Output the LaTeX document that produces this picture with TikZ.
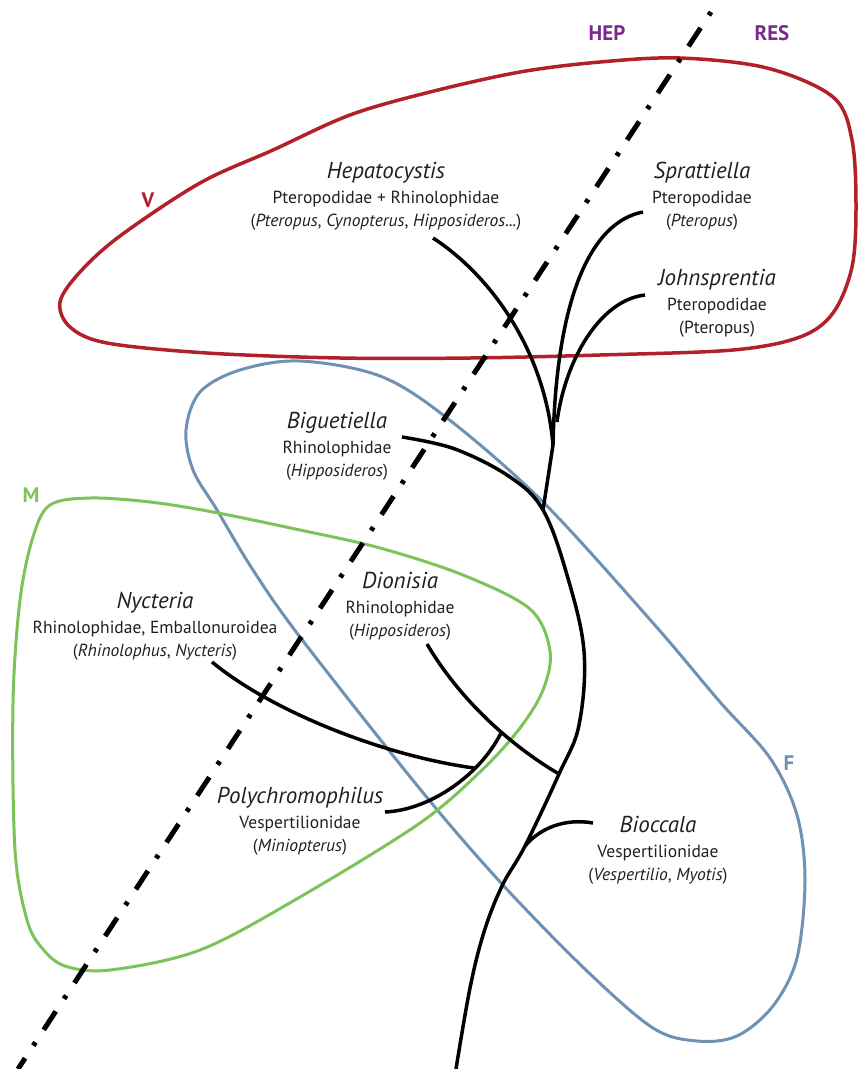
\documentclass[tikz,border=0pt]{standalone}
\usepackage{fontspec}
\setmainfont{PT Sans}
\definecolor{vred}{HTML}{B2202A}
\definecolor{fblue}{HTML}{6E91B4}
\definecolor{mgreen}{HTML}{7CC35A}
\definecolor{hpurple}{HTML}{7A2A8C}
\definecolor{ink}{HTML}{231F20}
\newcommand\taxon[6]{%
  \node[ttl] (#1) at (#2,#3) {#4};
  \node[bdy] (#1b) at (#2,#3+25) {#5};
  \node[bdy] (#1c) at (#2,#3+48) {#6};
}
\begin{document}
\begin{tikzpicture}[x=1pt,y=-1pt,
  grouploop/.style={line width=3pt, line join=round},
  branch/.style={line width=3.5pt, draw=black},
  ttl/.style={anchor=base, inner sep=0pt, text=ink, font=\fontsize{23}{26}\selectfont\itshape},
  bdy/.style={anchor=base, inner sep=0pt, text=ink, font=\fontsize{17.5}{20}\selectfont},
  grp/.style={anchor=base, inner sep=0pt, font=\fontsize{21}{24}\selectfont\bfseries}
]
\useasboundingbox (0,0) rectangle (858,1069);

% group loops
\draw[grouploop, vred, line width=3.5pt] plot[smooth cycle, tension=0.55] coordinates {
 (60,302) (80,272) (120,236) (200,183) (273,150) (350,115) (430,92) (520,72) (600,62)
 (680,58) (767,68) (833,97) (852,140) (856,207) (852,267) (833,313) (800,337) (733,350)
 (600,355) (470,358) (340,358) (207,353) (107,343) (70,327)};
\draw[grouploop, fblue] plot[smooth cycle, tension=0.55] coordinates {
 (186,430) (200,392) (240,370) (300,361) (380,376) (447,418) (543,502) (653,623)
 (720,702) (770,758) (797,815) (805,880) (797,958) (773,1006) (737,1036) (697,1041)
 (653,1028) (587,971) (502,884) (420,789) (300,637) (253,570) (217,510) (193,470)};
\draw[grouploop, mgreen] plot[smooth cycle, tension=0.55] coordinates {
 (33,537) (50,505) (90,498) (150,502) (213,512) (300,530) (380,548) (463,575) (530,609)
 (550,651) (543,690) (520,728) (482,770) (420,823) (300,897) (200,950) (110,970)
 (65,966) (42,948) (27,920) (15,850) (13,703) (20,600)};

% dash-dot divider
\coordinate (dtop) at (711,12);
\coordinate (dbot) at (18,1069);
\draw[line width=5pt, dash pattern=on 4pt off 15pt on 22pt off 15pt] (dtop) -- (dbot);

% tree coordinates
\coordinate (tH) at (433,238);
\coordinate (tS) at (643,212);
\coordinate (tJ) at (645,295);
\coordinate (jSJ) at (557,422);
\coordinate (jH) at (553,445);
\coordinate (jB) at (543,510);
\coordinate (tB) at (402,437);
\coordinate (tD) at (427,644);
\coordinate (jNP) at (501,733);
\coordinate (jN) at (474,768);
\coordinate (tN) at (212,662);
\coordinate (tP) at (385,812);
\coordinate (jD) at (559,774);
\coordinate (tBio) at (593,823);
\coordinate (jBio) at (525,846);
\coordinate (root) at (456,1069);

% tree
\draw[branch] plot[smooth, tension=0.6] coordinates {(tB) (455,449) (510,477) (jB) (567,575)
  (584,651) (579,725) (jD) (jBio) (502,886) (484,932) (470,988) (root)};
\draw[branch] (tH) .. controls (490,275) and (545,350) .. (jH);
\draw[branch] (tS) .. controls (590,222) and (556,300) .. (jH);
\draw[branch] (tJ) .. controls (600,300) and (565,360) .. (jSJ);
\draw[branch] (jH) -- (jB);
\draw[branch] (tD) .. controls (460,700) and (510,745) .. (jD);
\draw[branch] (tP) .. controls (430,810) and (480,775) .. (jNP);
\draw[branch] (tN) .. controls (270,710) and (380,755) .. (jN);
\draw[branch] (tBio) .. controls (565,818) and (540,828) .. (jBio);

% taxon labels
\taxon{hep}{386}{178}{Hepatocystis}{Pteropodidae + Rhinolophidae}{(\textit{Pteropus}, \textit{Cynopterus}, \textit{Hipposideros...})}
\taxon{spr}{702}{178}{Sprattiella}{Pteropodidae}{(\textit{Pteropus})}
\taxon{joh}{717}{285}{Johnsprentia}{Pteropodidae}{(Pteropus)}
\taxon{big}{337}{428}{Biguetiella}{Rhinolophidae}{(\textit{Hipposideros})}
\taxon{dio}{400}{588}{Dionisia}{Rhinolophidae}{(\textit{Hipposideros})}
\taxon{nyc}{155}{608}{Nycteria}{Rhinolophidae, Emballonuroidea}{(\textit{Rhinolophus}, \textit{Nycteris})}
\taxon{pol}{300}{803}{Polychromophilus}{Vespertilionidae}{(\textit{Miniopterus})}
\taxon{bio}{658}{832}{Bioccala}{Vespertilionidae}{(\textit{Vespertilio}, \textit{Myotis})}

% group labels
\node[grp, text=hpurple] (hepl) at (607,40) {HEP};
\node[grp, text=hpurple] (resl) at (772,40) {RES};
\node[grp, text=vred] (vl) at (148,207) {V};
\node[grp, text=mgreen] (ml) at (31,502) {M};
\node[grp, text=fblue] (fl) at (789,770) {F};
\end{tikzpicture}
\end{document}
